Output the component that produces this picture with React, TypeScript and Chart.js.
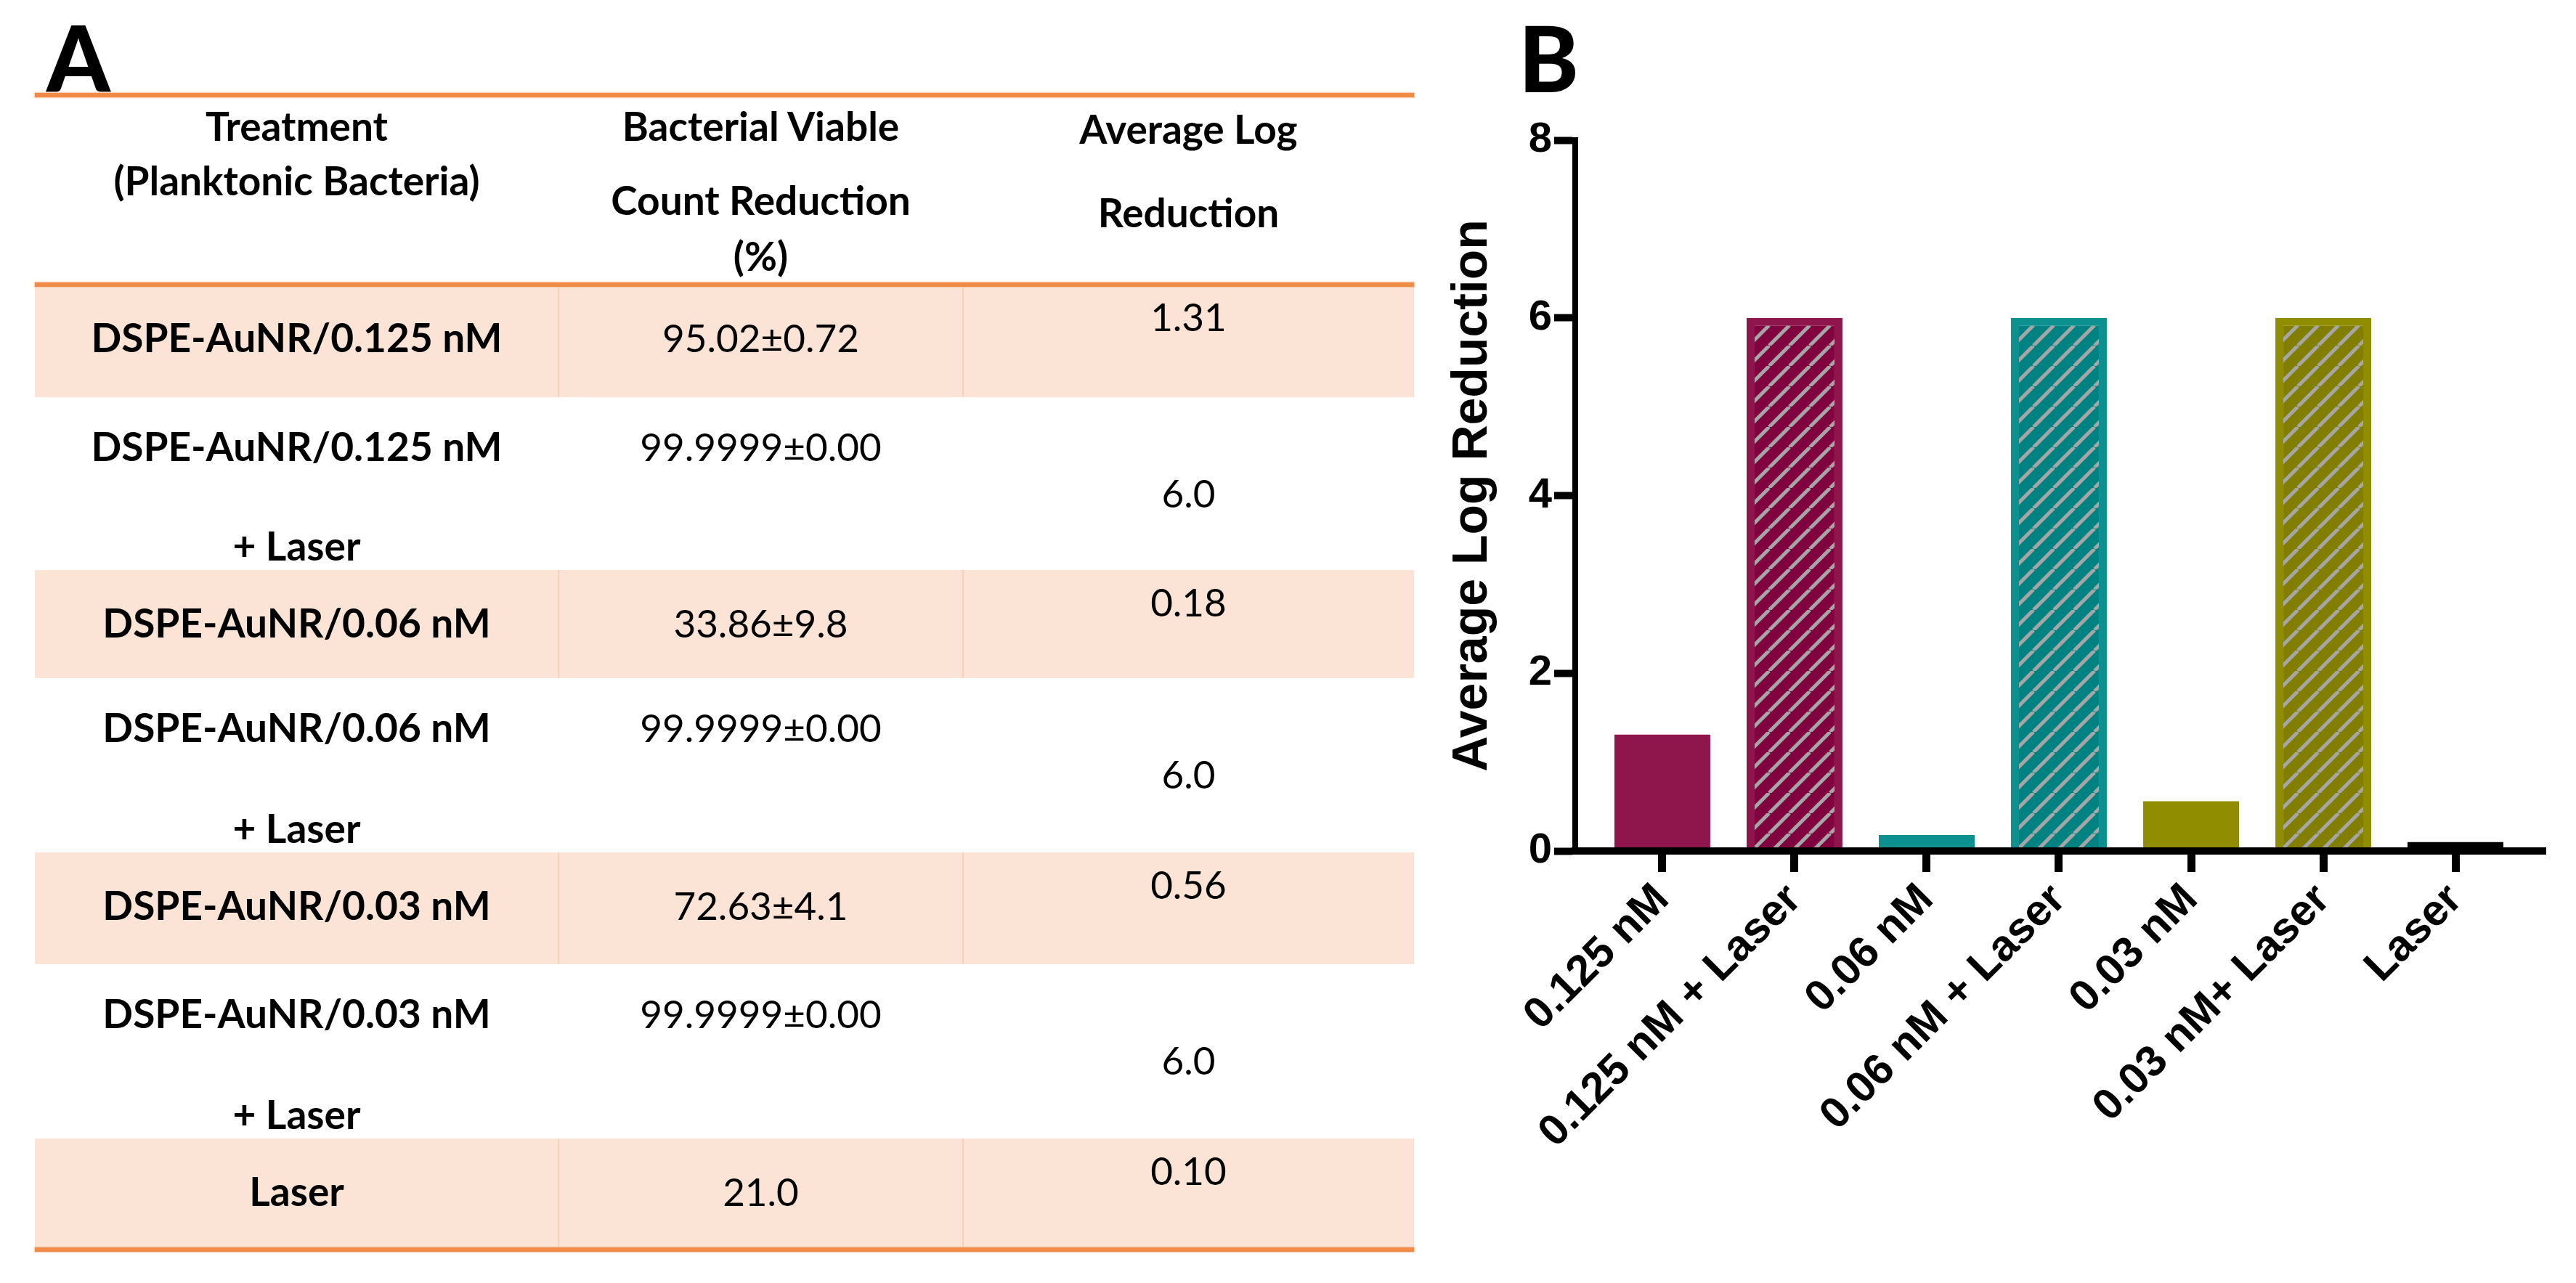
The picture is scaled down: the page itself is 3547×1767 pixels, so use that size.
import React, { useEffect, useRef } from 'react';
import { Chart, registerables } from 'chart.js';

Chart.register(...registerables);

// ---------- data ----------
const categories = ['0.125 nM', '0.125 nM + Laser', '0.06 nM', '0.06 nM + Laser', '0.03 nM', '0.03 nM+ Laser', 'Laser'];
const logReduction = [1.31, 6.0, 0.18, 6.0, 0.56, 6.0, 0.1];
const yTicks = [0, 2, 4, 6, 8];

const headerTreatment = ['Treatment', '(Planktonic Bacteria)'];
const headerViable = ['Bacterial Viable', 'Count Reduction', '(%)'];
const headerLog = ['Average Log', 'Reduction'];

const treatments = [
  ['DSPE-AuNR/0.125 nM'],
  ['DSPE-AuNR/0.125 nM', '+ Laser'],
  ['DSPE-AuNR/0.06 nM'],
  ['DSPE-AuNR/0.06 nM', '+ Laser'],
  ['DSPE-AuNR/0.03 nM'],
  ['DSPE-AuNR/0.03 nM', '+ Laser'],
  ['Laser'],
];
const viableReduction = ['95.02±0.72', '99.9999±0.00', '33.86±9.8', '99.9999±0.00', '72.63±4.1', '99.9999±0.00', '21.0'];
const avgLogText = ['1.31', '6.0', '0.18', '6.0', '0.56', '6.0', '0.10'];

// ---------- layout / style ----------
const TABLE_FONT = "Lato, 'Noto Sans', sans-serif";
const CHART_FONT = "'Liberation Sans', Arial, sans-serif";
const cols = [
  { l: 48, r: 769 },
  { l: 769, r: 1326 },
  { l: 1326, r: 1947 },
];
const rowBounds = [392, 547, 785, 934, 1174, 1328, 1568, 1721];
const ORANGE = '#ef8a47';
const PEACH = '#fbe4d5';
const BOLD_SIZE = 55;
const REG_SIZE = 53;

const barSolid = ['#8f164c', '#8f164c', '#0d9090', '#0d9090', '#918d00', '#918d00', '#000000'];
const barInner = ['#80033f', '#80033f', '#008282', '#008282', '#827e00', '#827e00', '#000000'];
const STRIPE = '#a6a6a6';

function hatch(bg: string, stripe: string): CanvasPattern {
  const s = 28;
  const c = document.createElement('canvas');
  c.width = s;
  c.height = s;
  const g = c.getContext('2d')!;
  g.fillStyle = bg;
  g.fillRect(0, 0, s, s);
  g.strokeStyle = stripe;
  g.lineWidth = 5;
  g.beginPath();
  for (const k of [-1, 0, 1]) {
    g.moveTo(k * s, s);
    g.lineTo(k * s + s, 0);
  }
  g.stroke();
  return g.createPattern(c, 'repeat')!;
}

function TextLine(props: { text: string; col: number; y: number; bold: boolean }) {
  const { text, col, y, bold } = props;
  const size = bold ? BOLD_SIZE : REG_SIZE;
  const c = cols[col];
  return (
    <div
      style={{
        position: 'absolute',
        left: c.l,
        width: c.r - c.l,
        top: y - size / 2,
        height: size,
        lineHeight: `${size}px`,
        fontSize: size,
        fontWeight: bold ? 700 : 400,
        textAlign: 'center',
        whiteSpace: 'nowrap',
        color: '#000',
        fontFamily: TABLE_FONT,
      }}
    >
      {text}
    </div>
  );
}

function BarChart() {
  const ref = useRef<HTMLCanvasElement | null>(null);
  useEffect(() => {
    const canvas = ref.current;
    if (!canvas) return;
    const bg = barSolid.map((c, i) => (i % 2 === 1 && i < 6 ? hatch(barInner[i], STRIPE) : c));
    const borderW = barSolid.map((_, i) => (i % 2 === 1 && i < 6 ? 11 : 0));
    const chart = new Chart(canvas, {
      type: 'bar',
      data: {
        datasets: [
          {
            data: logReduction.map((v, i) => ({ x: i, y: v })),
            backgroundColor: bg as any,
            borderColor: barSolid,
            borderWidth: borderW,
            borderSkipped: 'start',
            barPercentage: 0.725,
            categoryPercentage: 1,
          },
        ],
      },
      options: {
        animation: false,
        responsive: false,
        devicePixelRatio: 1,
        layout: { padding: { left: 0, right: 42, top: 193, bottom: 0 } },
        plugins: { legend: { display: false }, tooltip: { enabled: false } },
        scales: {
          x: {
            type: 'linear',
            min: -0.659,
            max: 6.681,
            offset: false,
            afterBuildTicks: (s: any) => {
              s.ticks = categories.map((_, i) => ({ value: i }));
            },
            afterFit: (s: any) => {
              s.height = 595;
              s.paddingLeft = 0;
              s.paddingRight = 0;
            },
            ticks: {
              callback: (v: any) => categories[Math.round(Number(v))],
              font: { family: CHART_FONT, size: 60, weight: 'bold' },
              color: '#000',
              minRotation: 45,
              maxRotation: 45,
              autoSkip: false,
              padding: 3,
            },
            grid: { offset: false, drawOnChartArea: false, tickLength: 29, tickWidth: 11, tickColor: '#000' },
            border: { width: 10, color: '#000', z: 1 },
          },
          y: {
            min: 0,
            max: 8,
            afterBuildTicks: (s: any) => {
              s.ticks = yTicks.map((v) => ({ value: v }));
            },
            afterFit: (s: any) => {
              s.width = 209;
              s.paddingTop = 0;
              s.paddingBottom = 0;
            },
            ticks: {
              font: { family: CHART_FONT, size: 58, weight: 'bold' },
              color: '#000',
              padding: 3,
            },
            grid: { drawOnChartArea: false, tickLength: 29, tickWidth: 10, tickColor: '#000' },
            border: { width: 8, color: '#000', z: 1 },
            title: {
              display: true,
              text: 'Average Log Reduction',
              font: { family: CHART_FONT, size: 68, weight: 'bold' },
              color: '#000',
              padding: { top: 27, bottom: 0 },
            },
          },
        },
      } as any,
    });
    return () => chart.destroy();
  }, []);
  return <canvas ref={ref} width={1587} height={1767} style={{ position: 'absolute', left: 1960, top: 0, width: 1587, height: 1767 }} />;
}

export default function App() {
  useEffect(() => {
    document.body.style.margin = '0';
    document.body.style.overflow = 'hidden';
  }, []);

  const rows = treatments.map((t, i) => {
    const top = rowBounds[i];
    const bottom = rowBounds[i + 1];
    const shaded = i % 2 === 0;
    return { t, i, top, bottom, shaded };
  });

  return (
    <div style={{ position: 'relative', width: 3547, height: 1767, background: '#fff', overflow: 'hidden' }}>
      {/* panel letters */}
      <div style={{ position: 'absolute', left: 64, top: 17, fontFamily: TABLE_FONT, fontWeight: 900, fontSize: 125, lineHeight: '125px', color: '#000' }}>A</div>
      <div style={{ position: 'absolute', left: 2091, top: 17, fontFamily: TABLE_FONT, fontWeight: 900, fontSize: 125, lineHeight: '125px', color: '#000' }}>B</div>

      {/* shaded rows */}
      {rows.filter((r) => r.shaded).map((r) => (
        <div key={'bg' + r.i} style={{ position: 'absolute', left: cols[0].l, width: cols[2].r - cols[0].l, top: r.top, height: r.bottom - r.top, background: PEACH }} />
      ))}
      {rows.filter((r) => r.shaded).map((r) => (
        <React.Fragment key={'dv' + r.i}>
          <div style={{ position: 'absolute', left: cols[1].l - 1, width: 2, top: r.top, height: r.bottom - r.top, background: '#f6d2ba' }} />
          <div style={{ position: 'absolute', left: cols[2].l - 1, width: 2, top: r.top, height: r.bottom - r.top, background: '#f6d2ba' }} />
        </React.Fragment>
      ))}

      {/* orange rules */}
      {[131, 392, 1721].map((y) => (
        <div key={'rule' + y} style={{ position: 'absolute', left: cols[0].l, width: cols[2].r - cols[0].l, top: y - 3, height: 6, background: ORANGE, boxShadow: '0 0 2px 1px #f8c7a5' }} />
      ))}

      {/* header */}
      {headerTreatment.map((s, k) => (
        <TextLine key={'ht' + k} text={s} col={0} y={[173, 248][k]} bold />
      ))}
      {headerViable.map((s, k) => (
        <TextLine key={'hv' + k} text={s} col={1} y={[173, 275, 352][k]} bold />
      ))}
      {headerLog.map((s, k) => (
        <TextLine key={'hl' + k} text={s} col={2} y={[177, 292][k]} bold />
      ))}

      {/* body */}
      {rows.map((r) => {
        if (r.shaded) {
          return (
            <React.Fragment key={'row' + r.i}>
              <TextLine text={r.t[0]} col={0} y={r.top + 72} bold />
              <TextLine text={viableReduction[r.i]} col={1} y={r.top + 72} bold={false} />
              <TextLine text={avgLogText[r.i]} col={2} y={r.top + 43} bold={false} />
            </React.Fragment>
          );
        }
        return (
          <React.Fragment key={'row' + r.i}>
            <TextLine text={r.t[0]} col={0} y={r.top + 67} bold />
            <TextLine text={r.t[1]} col={0} y={r.bottom - 34} bold />
            <TextLine text={viableReduction[r.i]} col={1} y={r.top + 67} bold={false} />
            <TextLine text={avgLogText[r.i]} col={2} y={r.top + 131} bold={false} />
          </React.Fragment>
        );
      })}

      <BarChart />
    </div>
  );
}
